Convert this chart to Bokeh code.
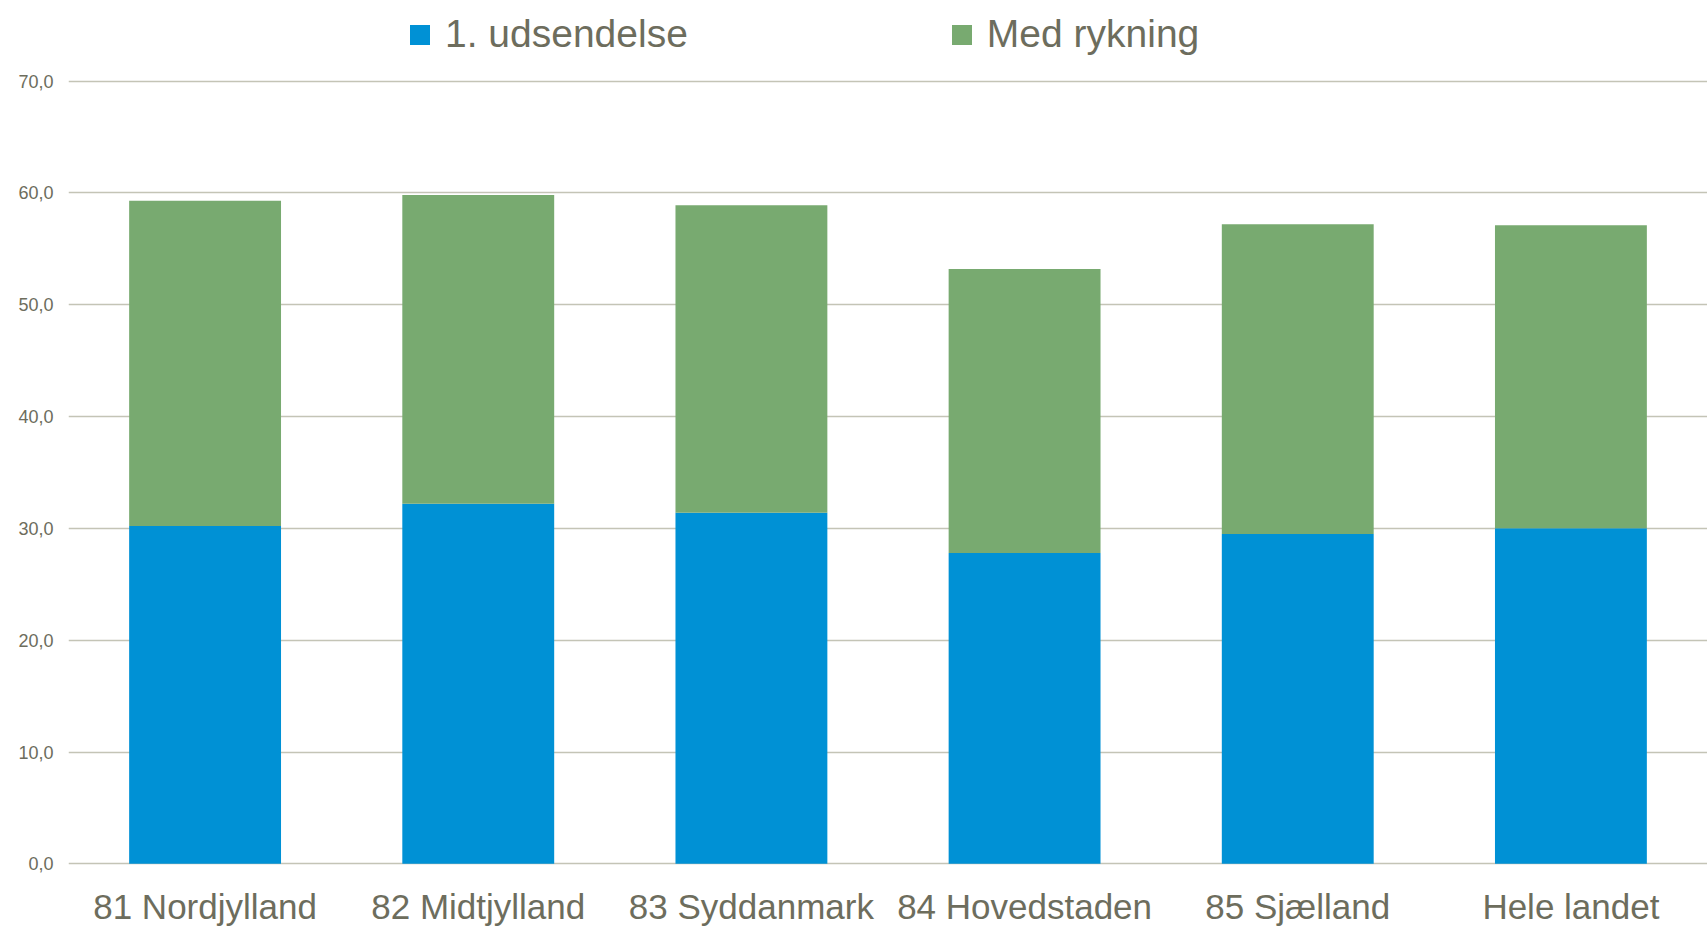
from bokeh.plotting import figure
from bokeh.models import FactorRange, Range1d, Legend, LegendItem, FixedTicker, ColumnDataSource
from bokeh.embed import file_html
from bokeh.resources import INLINE

categories = ["81 Nordjylland", "82 Midtjylland", "83 Syddanmark",
              "84 Hovedstaden", "85 Sjælland", "Hele landet"]
first_send = [30.2, 32.2, 31.4, 27.8, 29.5, 30.0]
with_reminder = [29.1, 27.6, 27.5, 25.4, 27.7, 27.1]
series = ["1. udsendelse", "Med rykning"]
colors = ["#0091D5", "#78AA70"]
y_ticks = [0, 10, 20, 30, 40, 50, 60, 70]
y_tick_labels = ["0,0", "10,0", "20,0", "30,0", "40,0", "50,0", "60,0", "70,0"]

FONT = "Liberation Sans"
TXT = "#6D6D5D"
GRID = "#C4C4B6"

src = ColumnDataSource(dict(cat=categories, s0=first_send, s1=with_reminder))

p = figure(x_range=FactorRange(*categories), y_range=Range1d(-1.31, 77.2),
           width=1707, height=937, output_backend="svg", toolbar_location=None,
           min_border_left=68, min_border_right=0, min_border_top=0, min_border_bottom=59)

rs = p.vbar_stack(["s0", "s1"], x="cat", width=0.556, color=colors, line_color=None, source=src)

p.outline_line_color = None
p.background_fill_color = "white"
p.border_fill_color = "white"
p.xgrid.grid_line_color = None
p.ygrid.grid_line_color = GRID
p.ygrid.grid_line_width = 1.5
p.ygrid.ticker = FixedTicker(ticks=y_ticks)

p.yaxis.ticker = FixedTicker(ticks=y_ticks)
p.yaxis.major_label_overrides = {t: l for t, l in zip(y_ticks, y_tick_labels)}
p.yaxis.axis_line_color = None
p.yaxis.major_tick_line_color = None
p.yaxis.minor_tick_line_color = None
p.yaxis.major_label_text_font = FONT
p.yaxis.major_label_text_font_size = "18px"
p.yaxis.major_label_text_color = TXT
p.yaxis.major_label_standoff = 9

p.xaxis.axis_line_color = None
p.xaxis.major_tick_line_color = None
p.xaxis.minor_tick_line_color = None
p.xaxis.major_label_text_font = FONT
p.xaxis.major_label_text_font_size = "35px"
p.xaxis.major_label_text_color = TXT
p.xaxis.major_label_standoff = 2

legend = Legend(items=[LegendItem(label=series[0], renderers=[rs[0]]),
                       LegendItem(label=series[1], renderers=[rs[1]])],
                orientation="horizontal", location=(339, 822),
                glyph_width=25, glyph_height=25, label_standoff=13, spacing=261,
                padding=0, margin=0, border_line_color=None, background_fill_alpha=0,
                label_text_font=FONT, label_text_font_size="39px", label_text_color=TXT)
p.add_layout(legend)

open("out.html", "w").write(file_html(p, INLINE))
